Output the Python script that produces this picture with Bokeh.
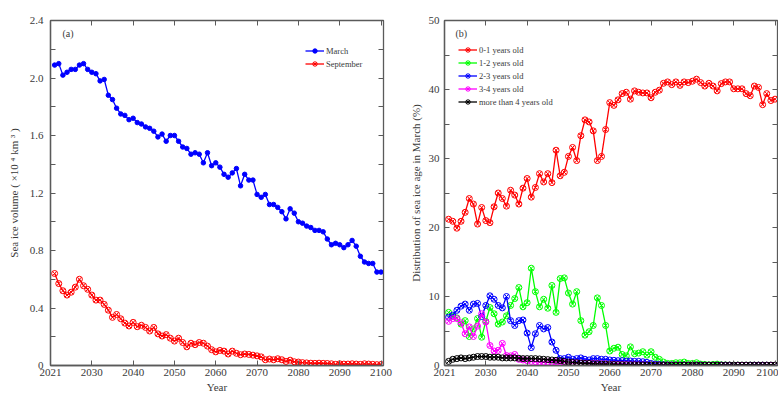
from bokeh.plotting import figure
from bokeh.layouts import row
from bokeh.models import (FixedTicker, LinearAxis, Legend, LegendItem, Label,
                          Range1d, PrintfTickFormatter)
from bokeh.embed import file_html
from bokeh.resources import INLINE

# ---------------- data ----------------
years = list(range(2021, 2101))

march = [2.09, 2.10, 2.02, 2.04, 2.06, 2.06, 2.09, 2.10, 2.06, 2.04,
         2.03, 1.98, 1.99, 1.88, 1.85, 1.79, 1.75, 1.74, 1.71, 1.72,
         1.69, 1.68, 1.66, 1.65, 1.63, 1.59, 1.61, 1.56, 1.60, 1.60,
         1.56, 1.52, 1.51, 1.47, 1.48, 1.47, 1.41, 1.48, 1.39, 1.41,
         1.38, 1.33, 1.31, 1.34, 1.37, 1.25, 1.33, 1.29, 1.29, 1.19,
         1.17, 1.19, 1.12, 1.12, 1.10, 1.07, 1.02, 1.09, 1.06, 1.00,
         0.99, 0.97, 0.96, 0.94, 0.94, 0.93, 0.88, 0.84, 0.85, 0.84,
         0.82, 0.84, 0.87, 0.83, 0.76, 0.72, 0.71, 0.71, 0.65, 0.65]

september = [0.64, 0.57, 0.52, 0.49, 0.51, 0.545, 0.60, 0.555, 0.53, 0.49,
             0.455, 0.455, 0.425, 0.385, 0.335, 0.355, 0.325, 0.295, 0.275, 0.30,
             0.27, 0.28, 0.265, 0.24, 0.265, 0.22, 0.205, 0.215, 0.19, 0.17,
             0.19, 0.16, 0.13, 0.155, 0.145, 0.16, 0.155, 0.135, 0.11, 0.095,
             0.105, 0.10, 0.08, 0.10, 0.085, 0.075, 0.08, 0.077, 0.072, 0.067,
             0.06, 0.04, 0.045, 0.04, 0.047, 0.04, 0.028, 0.037, 0.026, 0.024,
             0.02, 0.018, 0.016, 0.015, 0.016, 0.015, 0.014, 0.012, 0.008, 0.012,
             0.01, 0.01, 0.012, 0.01, 0.008, 0.012, 0.01, 0.008, 0.006, 0.007]

age_0_1 = [21.2, 20.9, 19.9, 20.9, 22.2, 24.2, 23.4, 20.5, 22.9, 21.0,
           20.7, 23.0, 25.0, 24.2, 23.1, 25.4, 24.7, 23.4, 25.7, 27.1,
           24.4, 25.8, 27.8, 26.6, 27.8, 26.5, 31.2, 27.5, 28.0, 30.3,
           31.6, 29.7, 33.3, 35.6, 35.3, 34.0, 29.7, 30.3, 34.2, 38.1,
           37.7, 38.5, 39.4, 39.6, 38.6, 39.8, 39.6, 39.5, 39.5, 38.8,
           39.6, 39.9, 40.9, 41.1, 40.7, 41.1, 40.6, 41.1, 41.0, 41.2,
           41.5, 41.0, 40.5, 40.9, 40.5, 39.8, 40.85, 41.1, 41.1, 40.1,
           40.1, 40.1, 39.4, 39.1, 40.5, 40.3, 37.8, 39.4, 38.4, 38.6]

age_1_2 = [7.7, 7.1, 6.9, 6.0, 6.5, 4.2, 5.3, 6.8, 4.1, 6.4,
           8.4, 7.5, 6.0, 6.3, 7.2, 8.7, 9.7, 11.3, 8.5, 9.1,
           14.1, 10.7, 8.5, 9.6, 8.3, 11.6, 7.7, 12.6, 12.7, 10.5,
           8.9, 10.7, 6.5, 4.4, 4.9, 5.8, 9.8, 8.7, 5.8, 2.1,
           2.5, 2.65, 1.6, 1.4, 2.7, 1.7, 1.8, 2.0, 1.5, 2.0,
           1.2, 0.9, 0.5, 0.3, 0.3, 0.4, 0.4, 0.5, 0.3, 0.3,
           0.4, 0.2, 0.15, 0.1, 0.15, 0.2, 0.1, 0.08, 0.06, 0.05,
           0.05, 0.04, 0.04, 0.05, 0.04, 0.03, 0.03, 0.03, 0.03, 0.02]

age_2_3 = [7.0, 7.3, 8.0, 8.6, 8.9, 8.0, 8.9, 9.0, 7.1, 8.7,
           10.1, 9.6, 8.7, 8.35, 10.0, 6.5, 5.8, 6.5, 6.6, 4.7,
           2.6, 4.6, 5.8, 5.3, 5.5, 3.4, 2.2, 1.0, 1.0, 1.2,
           0.9, 1.0, 1.1, 0.9, 0.8, 1.0, 1.0, 0.9, 0.9, 0.8,
           0.75, 0.7, 0.7, 0.65, 0.65, 0.6, 0.6, 0.55, 0.45, 0.3,
           0.2, 0.15, 0.1, 0.08, 0.07, 0.06, 0.05, 0.05, 0.04, 0.04,
           0.04, 0.03, 0.03, 0.03, 0.03, 0.03, 0.03, 0.02, 0.02, 0.02,
           0.02, 0.02, 0.02, 0.02, 0.02, 0.02, 0.02, 0.02, 0.02, 0.02]

age_3_4 = [6.4, 6.8, 6.8, 6.2, 4.6, 5.6, 4.2, 5.7, 7.5, 6.3,
           2.9, 2.1, 2.2, 3.2, 1.45, 1.4, 1.6, 0.9, 0.8, 0.7,
           0.6, 0.55, 0.5, 0.5, 0.5, 0.5, 0.55, 0.5, 0.45, 0.4,
           0.4, 0.4, 0.35, 0.35, 0.3, 0.3, 0.3, 0.25, 0.25, 0.2,
           0.2, 0.18, 0.15, 0.15, 0.12, 0.12, 0.1, 0.1, 0.08, 0.08,
           0.07, 0.06, 0.06, 0.05, 0.05, 0.05, 0.04, 0.04, 0.04, 0.04,
           0.03, 0.03, 0.03, 0.03, 0.03, 0.03, 0.03, 0.03, 0.03, 0.03,
           0.02, 0.02, 0.02, 0.02, 0.02, 0.02, 0.02, 0.02, 0.02, 0.02]

age_4_plus = [0.6, 0.9, 1.0, 1.1, 1.0, 1.1, 1.2, 1.3, 1.3, 1.3,
              1.2, 1.2, 1.2, 1.1, 1.1, 1.1, 1.1, 1.05, 1.0, 1.0,
              1.0, 1.0, 0.95, 0.9, 0.85, 0.8, 0.75, 0.7, 0.6, 0.5,
              0.45, 0.4, 0.35, 0.3, 0.3, 0.25, 0.25, 0.2, 0.2, 0.15,
              0.15, 0.12, 0.12, 0.1, 0.1, 0.1, 0.08, 0.08, 0.08, 0.07,
              0.07, 0.07, 0.06, 0.06, 0.06, 0.06, 0.06, 0.06, 0.06, 0.06,
              0.06, 0.06, 0.06, 0.06, 0.06, 0.06, 0.06, 0.06, 0.06, 0.06,
              0.06, 0.06, 0.06, 0.06, 0.06, 0.06, 0.06, 0.06, 0.06, 0.06]

x_ticks = [2020, 2030, 2040, 2050, 2060, 2070, 2080, 2090, 2100]
x_tick_labels = {2020: "2021"}
left_y_ticks = [0, 0.4, 0.8, 1.2, 1.6, 2.0, 2.4]
left_y_minor = [0.2, 0.6, 1.0, 1.4, 1.8, 2.2]
right_y_ticks = [0, 10, 20, 30, 40, 50]
right_y_minor = [5, 15, 25, 35, 45]

# ---------------- style ----------------
FONT = "Liberation Serif"
AXC = "#5a5a5a"
TXT = "#3a3a3a"


def setup(p, yticker, ylab_standoff, yaxis_standoff):
    p.grid.visible = False
    p.outline_line_color = AXC
    p.outline_line_width = 1.3
    xt = FixedTicker(ticks=x_ticks, minor_ticks=[])
    p.xaxis.ticker = xt
    p.xaxis.major_label_overrides = x_tick_labels
    p.yaxis.ticker = yticker
    for ax in (p.xaxis[0], p.yaxis[0]):
        ax.axis_line_color = AXC
        ax.axis_line_width = 1.3
        ax.major_tick_line_color = AXC
        ax.minor_tick_line_color = AXC
        ax.major_tick_in = 5
        ax.major_tick_out = 0
        ax.minor_tick_in = 5
        ax.minor_tick_out = 0
        ax.major_label_text_font = FONT
        ax.major_label_text_font_size = "11px"
        ax.major_label_text_color = TXT
        ax.axis_label_text_font = FONT
        ax.axis_label_text_font_size = "11px"
        ax.axis_label_text_font_style = "normal"
        ax.axis_label_text_color = TXT
    p.xaxis.major_label_standoff = 3
    p.xaxis.axis_label_standoff = 2
    p.yaxis.major_label_standoff = ylab_standoff
    p.yaxis.axis_label_standoff = yaxis_standoff
    top = LinearAxis(ticker=xt, major_label_text_alpha=0,
                     major_label_text_font_size="1px",
                     major_label_standoff=0, major_tick_in=5, major_tick_out=0,
                     minor_tick_in=0, minor_tick_out=0, axis_line_color=AXC,
                     major_tick_line_color=AXC)
    p.add_layout(top, "above")
    right = LinearAxis(ticker=yticker, major_label_text_alpha=0,
                       major_label_text_font_size="1px",
                       major_label_standoff=0, major_tick_in=5, major_tick_out=0,
                       minor_tick_in=5, minor_tick_out=0, axis_line_color=AXC,
                       major_tick_line_color=AXC, minor_tick_line_color=AXC)
    p.add_layout(right, "right")


def make_legend(items, loc):
    lg = Legend(items=items, location=loc, padding=0, margin=0,
                label_height=11, glyph_height=11, glyph_width=19,
                label_standoff=2, spacing=2,
                label_text_font=FONT, label_text_font_size="8.5px",
                label_text_color=TXT, border_line_alpha=0,
                background_fill_alpha=0)
    return lg


# ---------------- panel (a) ----------------
pa = figure(width=401, height=395, x_range=Range1d(2020, 2100.6),
            y_range=Range1d(0, 2.4), output_backend="svg",
            toolbar_location=None, min_border_left=50, min_border_right=18,
            min_border_top=20, min_border_bottom=29,
            x_axis_label="Year", y_axis_label="Sea ice volume ( ×10 ⁴ km ³ )")
ya = FixedTicker(ticks=left_y_ticks, minor_ticks=left_y_minor)
setup(pa, ya, 7, 7)
pa.yaxis[0].formatter = PrintfTickFormatter(format="%.1f")
pa.yaxis[0].major_label_overrides = {0: "0"}

l1 = pa.line(years, march, line_color="#0000ff", line_width=1.3)
s1 = pa.scatter(years, march, marker="circle", size=4.5, fill_color="#0000ff",
                line_color="#0000ff")
l2 = pa.line(years, september, line_color="#ff0000", line_width=1.3)
s2 = pa.scatter(years, september, marker="circle_x", size=6, fill_alpha=0,
                line_color="#ff0000", line_width=1)
pa.add_layout(make_legend([LegendItem(label="March", renderers=[l1, s1]),
                           LegendItem(label="September", renderers=[l2, s2])],
                          (255, 296)))
pa.add_layout(Label(x=12, y=332, x_units="screen", y_units="screen",
                    text="(a)", text_font=FONT, text_font_size="10px",
                    text_color=TXT, text_baseline="middle"))

# ---------------- panel (b) ----------------
pb = figure(width=377, height=395, x_range=Range1d(2020, 2100.6),
            y_range=Range1d(0, 50), output_backend="svg",
            toolbar_location=None, min_border_left=43, min_border_right=1,
            min_border_top=20, min_border_bottom=29,
            x_axis_label="Year",
            y_axis_label="Distribution of sea ice age in March (%)")
yb = FixedTicker(ticks=right_y_ticks, minor_ticks=right_y_minor)
setup(pb, yb, 5, 4)

series = [("0-1 years old", age_0_1, "#ff0000"),
          ("1-2 years old", age_1_2, "#00ff00"),
          ("2-3 years old", age_2_3, "#0000ff"),
          ("3-4 years old", age_3_4, "#ff00ff"),
          ("more than 4 years old", age_4_plus, "#000000")]
items = []
for name, vals, col in series:
    lr = pb.line(years, vals, line_color=col, line_width=1.3)
    sr = pb.scatter(years, vals, marker="circle_x", size=6, fill_alpha=0,
                    line_color=col, line_width=1)
    items.append(LegendItem(label=name, renderers=[lr, sr]))
pb.add_layout(make_legend(items, (14, 258)))
pb.add_layout(Label(x=11, y=332, x_units="screen", y_units="screen",
                    text="(b)", text_font=FONT, text_font_size="10px",
                    text_color=TXT, text_baseline="middle"))

layout = row(pa, pb)
open("out.html", "w").write(file_html(layout, INLINE))
